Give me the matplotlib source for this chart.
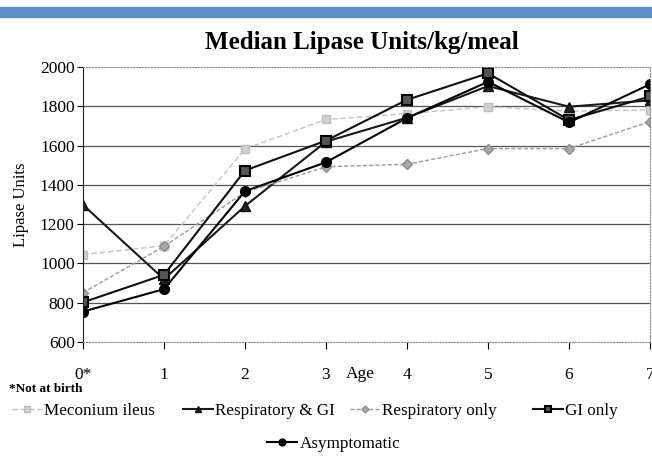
import matplotlib.pyplot as plt
from matplotlib.patches import Rectangle

ages = [0, 1, 2, 3, 4, 5, 6, 7]
age_labels = ['0*', '1', '2', '3', '4', '5', '6', '7']

meconium = [1045, 1090, 1583, 1733, 1762, 1798, 1775, 1782]
resp_gi = [1298, 920, 1292, 1620, 1742, 1903, 1798, 1830]
resp_only = [851, 1087, 1362, 1492, 1505, 1585, 1585, 1722]
gi_only = [802, 942, 1473, 1625, 1833, 1968, 1730, 1850]
asymptomatic = [755, 869, 1368, 1515, 1740, 1925, 1718, 1912]

series_names = ['Meconium ileus', 'Respiratory & GI', 'Respiratory only', 'GI only', 'Asymptomatic']

plt.rcParams['font.family'] = ['Liberation Serif', 'DejaVu Serif']

fig = plt.figure(figsize=(6.52, 4.62), dpi=100)
fig.patches.append(Rectangle((0, 1 - 17 / 462), 1, 10 / 462, transform=fig.transFigure,
                             color='#5b8fc5', zorder=0))

ax = fig.add_axes([83 / 652, 1 - 342 / 462, 567 / 652, 275 / 462])

l1, = ax.plot(ages, meconium, color='#c4c4c4', ls='--', lw=1.0, marker='s', ms=6,
              mfc='#cfcfcf', mec='#bdbdbd', dashes=(4, 2))
l2, = ax.plot(ages, resp_gi, color='#1a1a1a', lw=1.5, marker='^', ms=7, mfc='#222222', mec='#111111')
l3, = ax.plot(ages, resp_only, color='#9a9a9a', ls='--', lw=1.0, marker='D', ms=5,
              mfc='#a8a8a8', mec='#8c8c8c', dashes=(3, 1.5))
l4, = ax.plot(ages, gi_only, color='#111111', lw=1.5, marker='s', ms=7, mfc='#555555', mec='#000000', mew=1.5)
l5, = ax.plot(ages, asymptomatic, color='#000000', lw=1.5, marker='o', ms=7, mfc='#000000', mec='#000000')

ax.set_xlim(0, 7)
ax.set_ylim(600, 2000)
ax.set_yticks(range(600, 2001, 200))
ax.set_xticks(ages)
ax.set_xticklabels(age_labels)
for y in range(800, 1801, 200):
    ax.axhline(y, color='#555555', lw=0.9, zorder=0)

for side in ['top', 'right', 'bottom']:
    ax.spines[side].set_linestyle(':')
    ax.spines[side].set_color('#888888')
ax.spines['left'].set_color('#222222')
ax.tick_params(axis='y', labelsize=12.5, length=4, direction='out', pad=2)
ax.tick_params(axis='x', labelsize=12.5, length=5, direction='out', pad=13)

ax.set_ylabel('Lipase Units', fontsize=12, labelpad=8)
fig.text(360 / 652, 1 - 374 / 462, 'Age', fontsize=12.5, ha='center', va='center')
fig.text(9 / 652, 1 - 389 / 462, '*Not at birth', fontsize=9.5, fontweight='bold', ha='left', va='center')
fig.text(362 / 652, 1 - 43 / 462, 'Median Lipase Units/kg/meal', fontsize=18, fontweight='bold',
         ha='center', va='center')

# legend entries placed one by one, like the original layout
handles = [l1, l2, l3, l4, l5]
spots = [(12, 411), (183, 411), (350, 411), (533, 411), (267, 444)]
for h, name, (x, y) in zip(handles, series_names, spots):
    leg = fig.legend([h], [name], loc='center left', bbox_to_anchor=(x / 652, 1 - y / 462),
                     frameon=False, fontsize=12.3, handlelength=1.75, handletextpad=0.15,
                     borderpad=0, borderaxespad=0, markerscale=0.7)

fig.savefig('out.png', dpi=100)
